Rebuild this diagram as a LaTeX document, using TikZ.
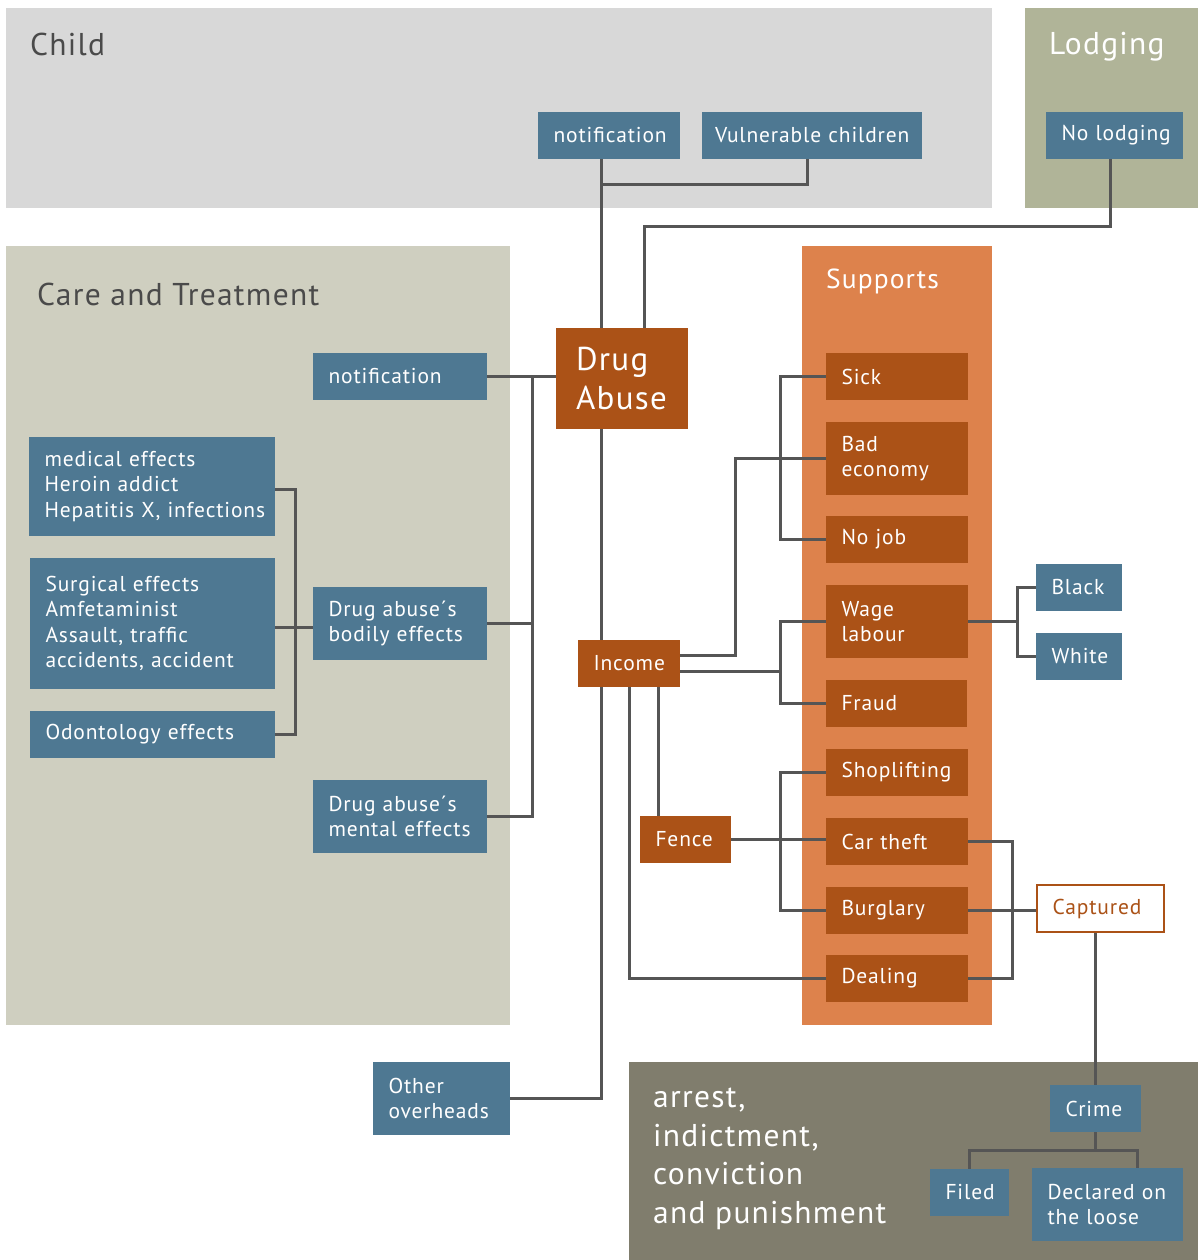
\documentclass[tikz,border=0pt]{standalone}
\usepackage{fontspec}
\setmainfont{PT Sans}[LetterSpace=4]
\definecolor{cblue}{HTML}{4E7892}
\definecolor{corange}{HTML}{AB5217}
\definecolor{csup}{HTML}{DD824C}
\definecolor{ccare}{HTML}{CFCFC0}
\definecolor{cchild}{HTML}{D8D8D8}
\definecolor{clodg}{HTML}{B0B498}
\definecolor{carrest}{HTML}{807D6D}
\definecolor{cline}{HTML}{555555}
\definecolor{ctitle}{HTML}{4A4A4A}
\newcommand\bxfont{\fontsize{21.5}{25.5}\selectfont}
\newcommand\ttlfont{\fontsize{31.5}{36}\selectfont}
\pgfdeclarelayer{panels}
\pgfdeclarelayer{wires}
\pgfsetlayers{panels,wires,main}
\begin{document}
\begin{tikzpicture}[x=1pt,y=-1pt,
  panel/.style={anchor=north west, inner sep=0pt, outer sep=0pt},
  ttl/.style={anchor=base west, inner sep=0pt, font=\ttlfont},
  box/.style={anchor=north west, inner xsep=15.5pt, inner ysep=0pt, outer sep=0pt, align=left, text=white, font=\bxfont,
    execute at begin node={\hyphenpenalty=10000\exhyphenpenalty=10000\hbadness=10000\hfuzz=100pt}},
  bbox/.style={box, fill=cblue},
  obox/.style={box, fill=corange},
  wire/.style={draw=cline, line width=3pt}]
\useasboundingbox (0,0) rectangle (1198,1260);
\begin{pgfonlayer}{panels}
\node[panel, fill=cchild, minimum width=986pt, minimum height=200pt] (pchild) at (6,8) {};
\node[panel, fill=clodg, minimum width=173pt, minimum height=200pt] (plodg) at (1025,8) {};
\node[panel, fill=ccare, minimum width=504pt, minimum height=779pt] (pcare) at (6,246) {};
\node[panel, fill=csup, minimum width=190pt, minimum height=779pt] (psup) at (802,246) {};
\node[panel, fill=carrest, minimum width=569pt, minimum height=198pt] (parrest) at (629,1062) {};
\end{pgfonlayer}
% titles
\node[ttl, text=ctitle] (tchild) at (30,56) {Child};
\node[ttl, text=white] (tlodg) at (1049,55) {Lodging};
\node[ttl, text=ctitle] (tcare) at (37,305) {Care and Treatment};
\node[ttl, text=white, font=\fontsize{27.5}{32}\selectfont] (tsup) at (826,288) {Supports};
\node[anchor=base west, inner sep=0pt, align=left, text=white, font=\fontsize{31.5}{38.5}\selectfont] (tarrest) at (653,1223) {arrest,\\indictment,\\conviction\\and punishment};
% blue boxes
\node[bbox, minimum width=142pt, minimum height=47pt, text width=111pt] (ntop) at (538,112) {notification};
\node[bbox, inner xsep=13pt, minimum width=220pt, minimum height=47pt, text width=194pt] (vul) at (702,112) {Vulnerable~children};
\node[bbox, minimum width=137pt, minimum height=47pt, text width=106pt] (nolodg) at (1046,112) {No~lodging};
\node[bbox, minimum width=174pt, minimum height=47pt, text width=143pt] (ncare) at (313,353) {notification};
\node[bbox, minimum width=246pt, minimum height=99pt, text width=215pt] (medical) at (29,437) {medical~effects\\Heroin~addict\\Hepatitis~X,~infections};
\node[bbox, minimum width=245pt, minimum height=131pt, text width=214pt] (surg) at (30,558) {Surgical~effects\\Amfetaminist\\Assault,~traffic\\accidents,~accident};
\node[bbox, minimum width=245pt, minimum height=47pt, text width=214pt] (odont) at (30,711) {Odontology~effects};
\node[bbox, minimum width=174pt, minimum height=73pt, text width=143pt] (bodily) at (313,587) {Drug~abuse´s\\bodily~effects};
\node[bbox, minimum width=174pt, minimum height=73pt, text width=143pt] (mental) at (313,780) {Drug~abuse´s\\mental~effects};
\node[bbox, minimum width=137pt, minimum height=73pt, text width=106pt] (other) at (373,1062) {Other\\overheads};
\node[bbox, minimum width=86pt, minimum height=47pt, text width=55pt] (black) at (1036,564) {Black};
\node[bbox, minimum width=86pt, minimum height=47pt, text width=55pt] (white) at (1036,633) {White};
\node[bbox, minimum width=91pt, minimum height=47pt, text width=60pt] (crime) at (1050,1085) {Crime};
\node[bbox, minimum width=79pt, minimum height=47pt, text width=48pt] (filed) at (930,1169) {Filed};
\node[bbox, minimum width=151pt, minimum height=73pt, text width=120pt] (declared) at (1032,1168) {Declared~on\\the~loose};
% orange boxes
\node[obox, inner xsep=20pt, minimum width=132pt, minimum height=101pt, text width=92pt, font=\fontsize{33}{39}\selectfont] (drug) at (556,328) {Drug\\Abuse};
\node[obox, minimum width=102pt, minimum height=47pt, text width=71pt] (income) at (578,640) {Income};
\node[obox, minimum width=91pt, minimum height=47pt, text width=60pt] (fence) at (640,816) {Fence};
\node[obox, minimum width=142pt, minimum height=47pt, text width=111pt] (sick) at (826,353) {Sick};
\node[obox, minimum width=142pt, minimum height=73pt, text width=111pt] (badeco) at (826,422) {Bad\\economy};
\node[obox, minimum width=142pt, minimum height=47pt, text width=111pt] (nojob) at (826,516) {No~job};
\node[obox, minimum width=142pt, minimum height=73pt, text width=111pt] (wage) at (826,585) {Wage\\labour};
\node[obox, minimum width=141pt, minimum height=47pt, text width=110pt] (fraud) at (826,680) {Fraud};
\node[obox, minimum width=142pt, minimum height=47pt, text width=111pt] (shop) at (826,749) {Shoplifting};
\node[obox, minimum width=142pt, minimum height=47pt, text width=111pt] (cartheft) at (826,818) {Car~theft};
\node[obox, minimum width=142pt, minimum height=47pt, text width=111pt] (burg) at (826,887) {Burglary};
\node[obox, minimum width=142pt, minimum height=47pt, text width=111pt] (dealing) at (826,955) {Dealing};
\node[box, fill=white, draw=corange, line width=2.5pt, text=corange, minimum width=127pt, minimum height=47pt, text width=96pt] (captured) at (1037,885) {Captured};
% junction x positions
\coordinate (xA) at (601,0);
\coordinate (xB) at (644,0);
\coordinate (xC) at (532,0);
\coordinate (xD) at (295,0);
\coordinate (xE) at (735,0);
\coordinate (xF) at (780,0);
\coordinate (xG) at (1017,0);
\coordinate (xH) at (629,0);
\coordinate (xI) at (658,0);
\coordinate (xJ) at (1012,0);
\coordinate (xL) at (1137,0);
\coordinate (xN) at (807,0);
\coordinate (xO) at (1110,0);
\begin{pgfonlayer}{wires}
\draw[wire] (ntop.south -| xA) -- (drug.north -| xA);
\draw[wire] (vul.south -| xN) -- ++(0,26) -- ++(-206,0);
\draw[wire] (nolodg.south -| xO) -- ++(0,67) -| (drug.north -| xB);
\draw[wire] (ncare.east) -- (ncare.east -| drug.west);
\draw[wire] (xC |- ncare.east) -- (xC |- mental.east) -- (mental.east);
\draw[wire] (bodily.east) -- (bodily.east -| xC);
\draw[wire] ([yshift=-2.5pt]medical.east) -- ([yshift=-2.5pt]medical.east -| xD) -- (xD |- odont.east) -- (odont.east);
\draw[wire] ([yshift=-3.5pt]surg.east) -- ([yshift=-3.5pt]bodily.west);
\draw[wire] (drug.south -| xA) -- (income.north -| xA);
\draw[wire] (income.south -| xA) -- (xA |- other.east) -- (other.east);
\draw[wire] (income.south -| xH) -- (xH |- dealing.west) -- (dealing.west);
\draw[wire] (income.south -| xI) -- (fence.north -| xI);
\draw[wire] ([yshift=8pt]income.east) -| (xE |- badeco.west) -- (badeco.west);
\draw[wire] ([yshift=-7.5pt]income.east) -- ++(100,0);
\draw[wire] (sick.west) -- (sick.west -| xF) -- (xF |- nojob.west) -- (nojob.west);
\draw[wire] (wage.west) -- (wage.west -| xF) -- (xF |- fraud.west) -- (fraud.west);
\draw[wire] (wage.east) -- (wage.east -| xG);
\draw[wire] (black.west) -- (black.west -| xG) -- (xG |- white.west) -- (white.west);
\draw[wire] (shop.west) -- (shop.west -| xF) -- (xF |- burg.west) -- (burg.west);
\draw[wire] (fence.east) -- (fence.east -| cartheft.west);
\draw[wire] (cartheft.east) -- (cartheft.east -| xJ) -- (xJ |- dealing.east) -- (dealing.east);
\draw[wire] (burg.east) -- (burg.east -| captured.west);
\draw[wire] (captured.south -| crime.north) -- (crime.north);
\draw[wire] (crime.south) -- ++(0,18);
\draw[wire] (filed.north) -- ++(0,-19) -| (declared.north -| xL);
\end{pgfonlayer}
\end{tikzpicture}
\end{document}
